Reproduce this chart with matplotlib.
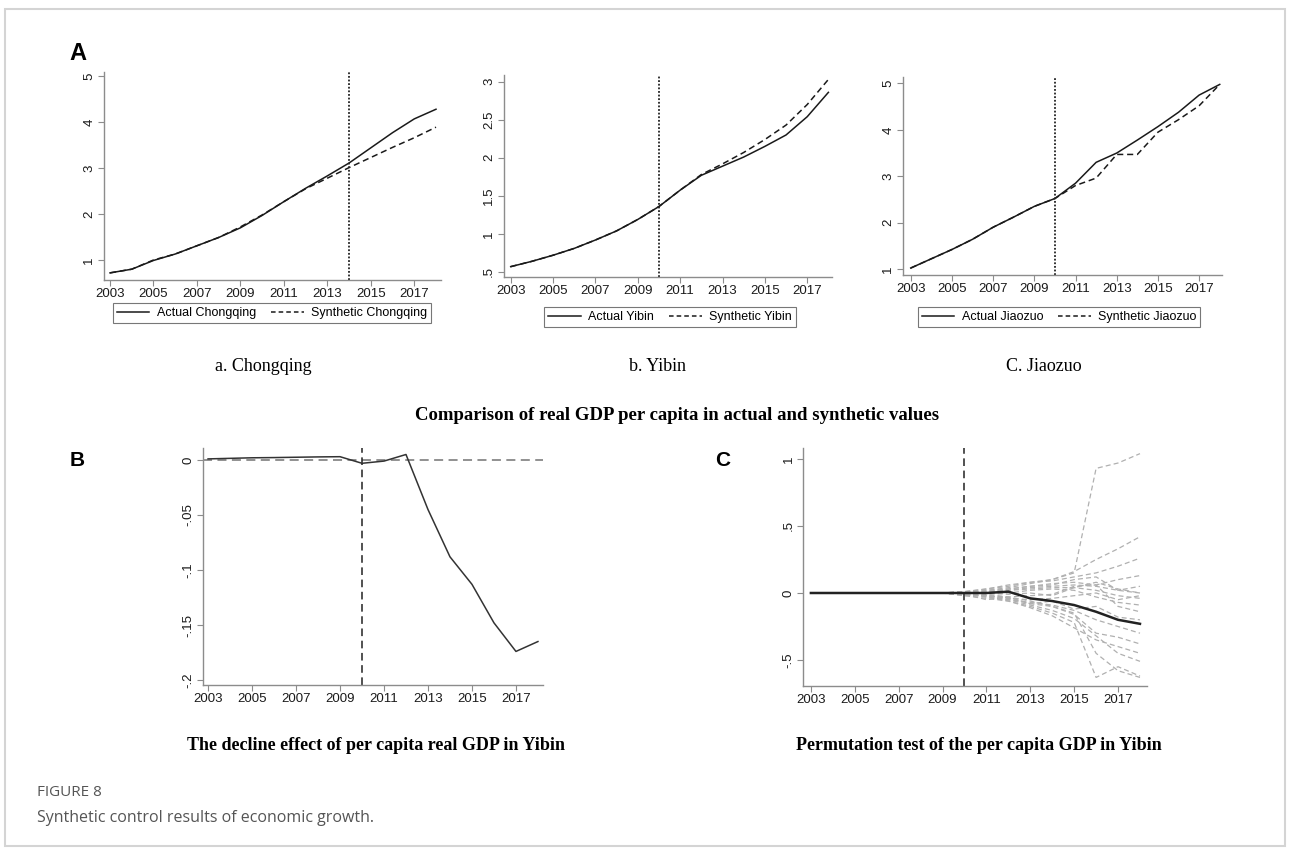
import numpy as np
import matplotlib
matplotlib.use("Agg")
from matplotlib import pyplot as plt
from matplotlib.patches import Rectangle
from matplotlib.lines import Line2D

W, H = 1290, 850

# data
years = list(range(2003, 2019))

cq_actual = [0.72, 0.80, 0.99, 1.13, 1.31, 1.49, 1.70, 1.97, 2.27, 2.56, 2.83, 3.11, 3.44, 3.77, 4.07, 4.28]
cq_synth = [0.72, 0.80, 1.00, 1.13, 1.31, 1.49, 1.72, 1.98, 2.27, 2.55, 2.78, 3.01, 3.23, 3.45, 3.66, 3.89]

yb_actual = [0.57, 0.64, 0.72, 0.81, 0.92, 1.04, 1.19, 1.36, 1.575, 1.77, 1.89, 2.01, 2.15, 2.30, 2.54, 2.86]
yb_synth = [0.57, 0.64, 0.72, 0.81, 0.92, 1.04, 1.19, 1.36, 1.575, 1.78, 1.92, 2.07, 2.24, 2.43, 2.70, 3.03]

jz_actual = [1.02, 1.22, 1.42, 1.64, 1.90, 2.12, 2.35, 2.52, 2.85, 3.30, 3.50, 3.78, 4.07, 4.38, 4.75, 4.98]
jz_synth = [1.02, 1.22, 1.42, 1.64, 1.90, 2.12, 2.35, 2.52, 2.80, 2.96, 3.47, 3.47, 3.95, 4.22, 4.52, 4.98]

yb_effect = [0.001, 0.0015, 0.002, 0.0022, 0.0025, 0.0028, 0.003, -0.003, -0.001, 0.005,
             -0.045, -0.088, -0.113, -0.148, -0.174, -0.165]

yb_gap = [0, 0, 0, 0, 0, 0, 0, 0, 0, 0.01, -0.04, -0.06, -0.09, -0.14, -0.20, -0.23]

pre = [0, 0, 0, 0, 0, 0, 0]
placebos = [
    pre + [0.01, 0.03, 0.05, 0.08, 0.10, 0.15, 0.93, 0.97, 1.04],
    pre + [0.00, 0.02, 0.04, 0.07, 0.10, 0.16, 0.25, 0.33, 0.42],
    pre + [0.01, 0.03, 0.06, 0.08, 0.09, 0.12, 0.15, 0.20, 0.26],
    pre + [0.00, 0.02, 0.03, 0.05, 0.07, 0.08, 0.06, 0.10, 0.13],
    pre + [0.00, 0.01, 0.02, 0.04, 0.05, 0.06, 0.05, 0.02, 0.00],
    pre + [-0.01, 0.01, 0.02, 0.03, 0.04, 0.04, 0.02, -0.02, -0.04],
    pre + [0.00, -0.01, 0.00, 0.02, 0.03, 0.02, -0.03, -0.07, -0.09],
    pre + [-0.01, -0.02, -0.03, -0.02, -0.01, 0.05, 0.06, -0.10, -0.14],
    pre + [0.00, -0.03, -0.05, -0.07, -0.09, -0.13, -0.20, -0.25, -0.30],
    pre + [-0.01, -0.02, -0.04, -0.08, -0.10, -0.16, -0.30, -0.33, -0.38],
    pre + [-0.02, -0.04, -0.06, -0.10, -0.15, -0.22, -0.63, -0.55, -0.62],
    pre + [-0.01, -0.03, -0.06, -0.11, -0.17, -0.26, -0.35, -0.40, -0.45],
    pre + [0.00, -0.02, -0.05, -0.09, -0.13, -0.19, -0.32, -0.45, -0.51],
    pre + [0.01, -0.01, -0.03, -0.06, -0.10, -0.15, -0.45, -0.58, -0.63],
    pre + [0.00, 0.01, 0.03, 0.05, 0.06, 0.10, 0.12, 0.02, 0.05],
    pre + [-0.02, -0.02, -0.04, -0.05, -0.04, -0.02, 0.00, -0.05, -0.02],
    pre + [0.01, 0.00, -0.01, 0.00, -0.02, 0.04, 0.08, 0.03, 0.00],
    pre + [-0.01, -0.05, -0.03, -0.08, -0.06, -0.12, -0.10, -0.18, -0.20],
]

xticks = [2003, 2005, 2007, 2009, 2011, 2013, 2015, 2017]

plt.rcParams["font.family"] = ["Liberation Sans", "DejaVu Sans"]

fig = plt.figure(figsize=(W / 100, H / 100), dpi=100)


def px_axes(left, top, right, bottom):
    return fig.add_axes([left / W, 1 - bottom / H, (right - left) / W, (bottom - top) / H])


def stata(ax, yt, ylab):
    for s in ["top", "right"]:
        ax.spines[s].set_visible(False)
    for s in ["left", "bottom"]:
        ax.spines[s].set_color("#8c8c8c")
        ax.spines[s].set_linewidth(1.0)
    ax.set_xticks(xticks)
    ax.set_yticks(yt)
    ax.set_yticklabels(ylab)
    ax.tick_params(direction="out", length=4, width=0.8, color="#8c8c8c",
                   labelsize=9.5, labelcolor="#1a1a1a", pad=2)
    ax.tick_params(axis="y", labelrotation=90)
    for l in ax.get_yticklabels():
        l.set_va("center")
    ax.patch.set_alpha(0)


def top_panel(rect, xl, yl, actual, synth, vline, yt, ylab, name, leg_c):
    ax = px_axes(*rect)
    ax.plot(years, actual, color="#1a1a1a", lw=1.1)
    ax.plot(years, synth, color="#1a1a1a", lw=1.1, ls=(0, (4, 2.5)))
    ax.axvline(vline, color="#222222", lw=1.3, ls=(0, (1, 1)))
    ax.set_xlim(*xl)
    ax.set_ylim(*yl)
    stata(ax, yt, ylab)
    hs = [Line2D([], [], color="#1a1a1a", lw=1.1),
          Line2D([], [], color="#1a1a1a", lw=1.1, ls=(0, (3, 2)))]
    leg = ax.legend(hs, ["Actual " + name, "Synthetic " + name], loc="center",
                    bbox_to_anchor=(leg_c[0] / W, 1 - leg_c[1] / H), bbox_transform=fig.transFigure,
                    ncol=2, fancybox=False, edgecolor="#555555", fontsize=9, handlelength=2.6,
                    columnspacing=1.2, borderpad=0.3, handletextpad=0.6, borderaxespad=0)
    leg.get_frame().set_linewidth(0.8)
    return ax


top_panel((103.6, 72, 441, 280), (2002.705, 2018.23), (0.565, 5.09), cq_actual, cq_synth, 2014,
          [1, 2, 3, 4, 5], ["1", "2", "3", "4", "5"], "Chongqing", (272, 313))
top_panel((503.5, 75, 832, 277), (2002.66, 2018.17), (0.434, 3.088), yb_actual, yb_synth, 2010,
          [0.5, 1, 1.5, 2, 2.5, 3], [".5", "1", "1.5", "2", "2.5", "3"], "Yibin", (670, 317))
top_panel((902.7, 77, 1222, 275), (2002.61, 2018.11), (0.87, 5.14), jz_actual, jz_synth, 2010,
          [1, 2, 3, 4, 5], ["1", "2", "3", "4", "5"], "Jiaozuo", (1059, 317))

# panel B
axb = px_axes(203, 448, 543, 685)
axb.axhline(0, color="#888888", lw=1.3, ls=(0, (5, 3)))
axb.axvline(2010, color="#222222", lw=1.1, ls=(0, (5, 3)))
axb.plot(years, yb_effect, color="#333333", lw=1.1)
axb.set_xlim(2002.77, 2018.23)
axb.set_ylim(-0.2045, 0.0109)
stata(axb, [0, -0.05, -0.1, -0.15, -0.2], ["0", "-.05", "-.1", "-.15", "-.2"])

# panel C
axc = px_axes(803, 448, 1147, 686)
for p in placebos:
    axc.plot(years, p, color="#b0b0b0", lw=0.9, ls=(0, (4, 2.5)))
axc.plot(years, yb_gap, color="#222222", lw=1.8)
axc.axvline(2010, color="#222222", lw=1.1, ls=(0, (5, 3)))
axc.set_xlim(2002.64, 2018.32)
axc.set_ylim(-0.694, 1.082)
stata(axc, [-0.5, 0, 0.5, 1], ["-.5", "0", ".5", "1"])

serif = ["Liberation Serif", "DejaVu Serif"]
fig.text(263 / W, 1 - 366 / H, "a. Chongqing", family=serif, fontsize=13, ha="center", va="center")
fig.text(658 / W, 1 - 366 / H, "b. Yibin", family=serif, fontsize=13, ha="center", va="center")
fig.text(1044 / W, 1 - 366 / H, "C. Jiaozuo", family=serif, fontsize=13, ha="center", va="center")
fig.text(677 / W, 1 - 415 / H, "Comparison of real GDP per capita in actual and synthetic values",
         family=serif, fontsize=13.5, weight="bold", ha="center", va="center")
fig.text(376 / W, 1 - 746 / H, "The decline effect of per capita real GDP in Yibin",
         family=serif, fontsize=13, weight="bold", ha="center", va="center")
fig.text(979 / W, 1 - 746 / H, "Permutation test of the per capita GDP in Yibin",
         family=serif, fontsize=13, weight="bold", ha="center", va="center")

fig.text(69 / W, 1 - 53 / H, "A", fontsize=17, weight="bold", ha="left", va="center")
fig.text(70 / W, 1 - 461 / H, "B", fontsize=15, weight="bold", ha="left", va="center")
fig.text(715 / W, 1 - 461 / H, "C", fontsize=15, weight="bold", ha="left", va="center")

fig.text(37 / W, 1 - 793 / H, "FIGURE 8", family=["Open Sans", "DejaVu Sans"], fontsize=11,
         color="#555555", ha="left", va="center")
fig.text(37 / W, 1 - 818 / H, "Synthetic control results of economic growth.",
         family=["Open Sans", "DejaVu Sans"], fontsize=11.5, color="#555555", ha="left", va="center")

fig.patches.append(Rectangle((5 / W, 1 - 846 / H), 1280 / W, 837 / H, transform=fig.transFigure,
                             fill=False, edgecolor="#d4d4d4", lw=1.5))

fig.savefig("out.png", dpi=100)
